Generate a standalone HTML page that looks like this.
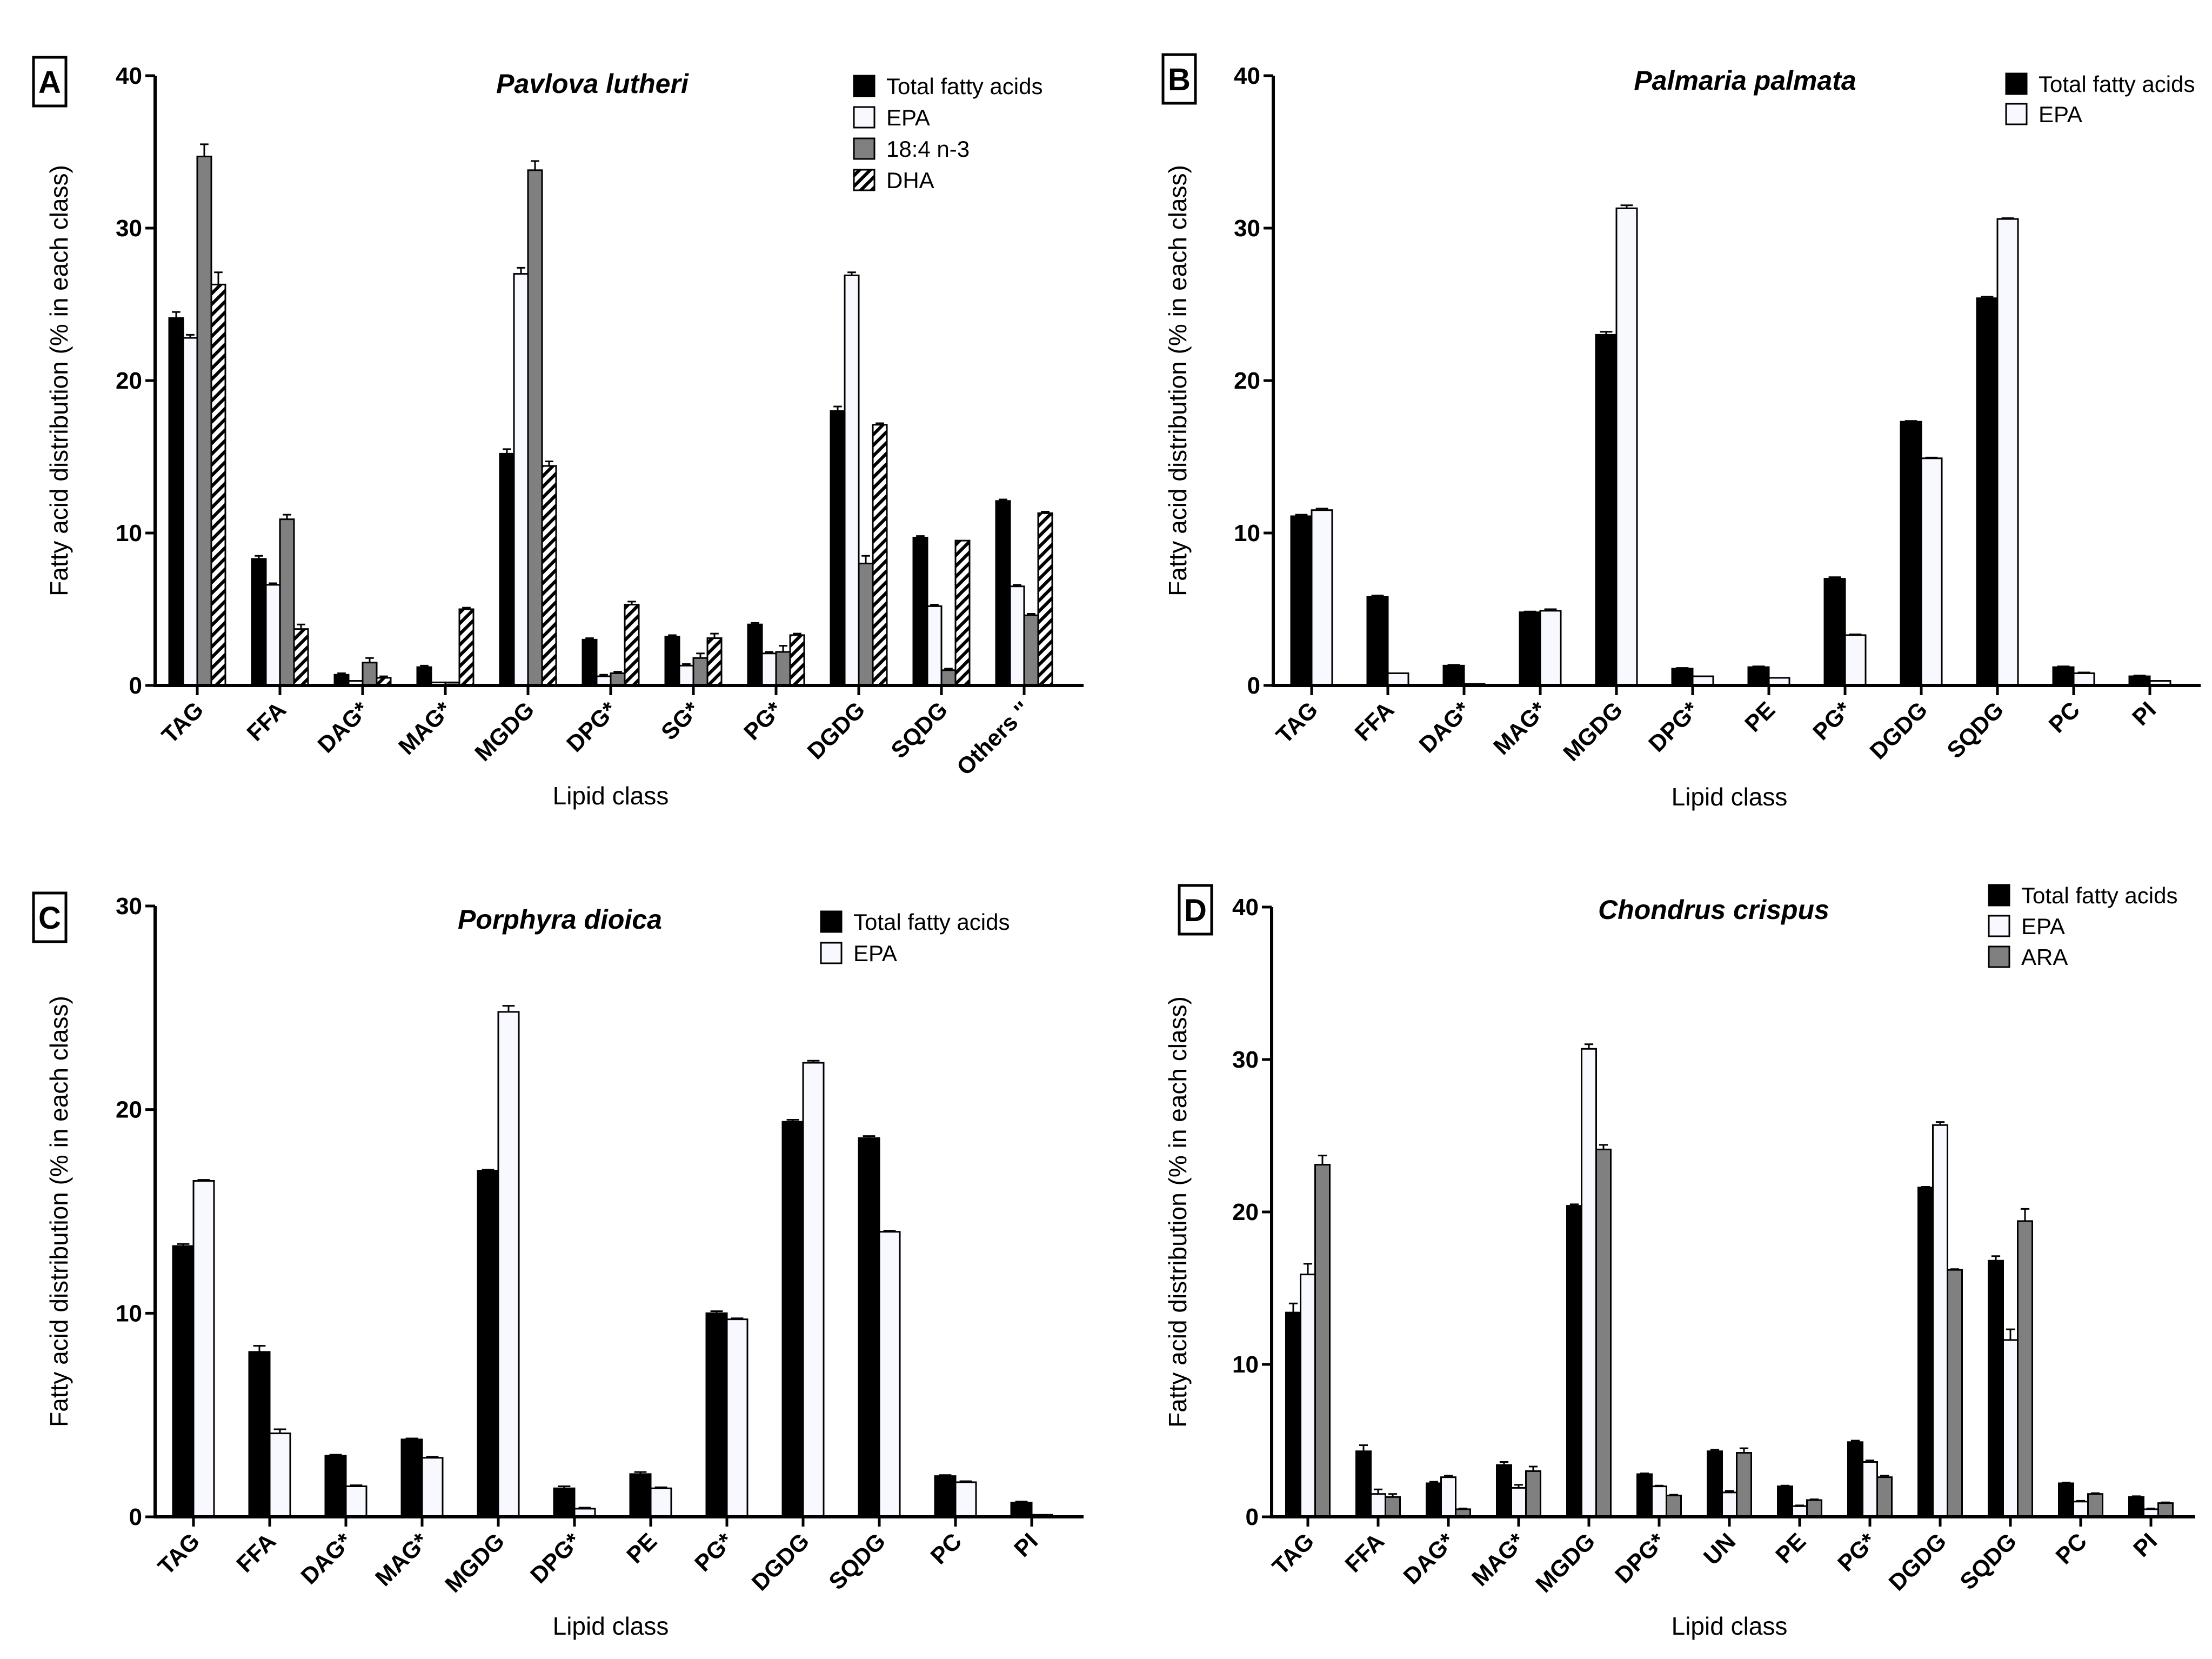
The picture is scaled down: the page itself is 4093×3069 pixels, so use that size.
<!DOCTYPE html>
<html><head><meta charset="utf-8"><style>
html,body{margin:0;padding:0;background:#fff;}
svg{display:block;font-family:"Liberation Sans",sans-serif;}
</style></head><body>
<svg id="fig" width="4093" height="3069" viewBox="0 0 4093 3069" xmlns="http://www.w3.org/2000/svg">
<defs>
<pattern id="hatch" patternUnits="userSpaceOnUse" width="14" height="14" patternTransform="rotate(45)">
<rect width="14" height="14" fill="#fff"/><rect x="0" y="0" width="6" height="14" fill="#000"/>
</pattern>
</defs>
</svg>
<script>
// ---- Panel A data ----
const catsA = ["TAG","FFA","DAG*","MAG*","MGDG","DPG*","SG*","PG*","DGDG","SQDG","Others ''"];
const totalA = [24.1,8.3,0.7,1.2,15.2,3.0,3.2,4.0,18.0,9.7,12.1];
const epaA   = [22.8,6.6,0.3,0.2,27.0,0.6,1.3,2.1,26.9,5.2,6.5];
const sdaA   = [34.7,10.9,1.5,0.2,33.8,0.8,1.8,2.2,8.0,1.0,4.6];
const dhaA   = [26.3,3.7,0.5,5.0,14.4,5.3,3.1,3.3,17.1,9.5,11.3];
const totalAErr = [0.4,0.2,0.1,0.1,0.3,0.1,0.1,0.1,0.3,0.1,0.1];
const epaAErr   = [0.2,0.1,0,0,0.4,0.1,0.1,0.1,0.2,0.1,0.1];
const sdaAErr   = [0.8,0.3,0.3,0,0.6,0.1,0.3,0.4,0.5,0.1,0.1];
const dhaAErr   = [0.8,0.3,0.1,0.1,0.3,0.2,0.3,0.1,0.1,0,0.1];
// ---- Panel B data ----
const catsB = ["TAG","FFA","DAG*","MAG*","MGDG","DPG*","PE","PG*","DGDG","SQDG","PC","PI"];
const totalB = [11.1,5.8,1.3,4.8,23.0,1.1,1.2,7.0,17.3,25.4,1.2,0.6];
const epaB   = [11.5,0.8,0.1,4.9,31.3,0.6,0.5,3.3,14.9,30.6,0.8,0.3];
const totalBErr = [0.1,0.1,0.05,0.05,0.2,0.05,0.05,0.1,0.05,0.1,0.05,0.05];
const epaBErr   = [0.1,0,0,0.1,0.2,0,0,0.05,0.05,0.05,0.05,0];
// ---- Panel C data ----
const catsC = ["TAG","FFA","DAG*","MAG*","MGDG","DPG*","PE","PG*","DGDG","SQDG","PC","PI"];
const totalC = [13.3,8.1,3.0,3.8,17.0,1.4,2.1,10.0,19.4,18.6,2.0,0.7];
const epaC   = [16.5,4.1,1.5,2.9,24.8,0.4,1.4,9.7,22.3,14.0,1.7,0.1];
const totalCErr = [0.1,0.3,0.05,0.05,0.05,0.1,0.1,0.1,0.1,0.1,0.05,0.05];
const epaCErr   = [0.05,0.2,0.05,0.05,0.3,0.05,0.05,0.05,0.1,0.05,0.05,0];
// ---- Panel D data ----
const catsD = ["TAG","FFA","DAG*","MAG*","MGDG","DPG*","UN","PE","PG*","DGDG","SQDG","PC","PI"];
const totalD = [13.4,4.3,2.2,3.4,20.4,2.8,4.3,2.0,4.9,21.6,16.8,2.2,1.3];
const epaD   = [15.9,1.5,2.6,1.9,30.7,2.0,1.6,0.7,3.6,25.7,11.6,1.0,0.5];
const araD   = [23.1,1.3,0.5,3.0,24.1,1.4,4.2,1.1,2.6,16.2,19.4,1.5,0.9];
const totalDErr = [0.6,0.4,0.1,0.2,0.1,0.05,0.1,0.05,0.1,0.05,0.3,0.05,0.05];
const epaDErr   = [0.7,0.3,0.1,0.2,0.3,0.05,0.1,0.05,0.1,0.2,0.7,0.05,0.05];
const araDErr   = [0.6,0.2,0.05,0.3,0.3,0.05,0.3,0.05,0.1,0.05,0.8,0.05,0.05];
const yTicks40 = [0,10,20,30,40];
const yTicks30 = [0,10,20,30];

const NS = "http://www.w3.org/2000/svg";
const svg = document.getElementById('fig');
function mk(tag, attrs, parent, text){
  const e = document.createElementNS(NS, tag);
  for (const k in attrs) e.setAttribute(k, attrs[k]);
  if (text !== undefined) e.textContent = text;
  (parent||svg).appendChild(e);
  return e;
}
const FILLS = {total:"#000", epa:"#f8f8ff", ara:"#808080", sda:"#808080", dha:"url(#hatch)"};

function panel(p){
  const g = mk('g', {});
  
  
  const yScale = v => p.y0 - (v / p.ymax) * (p.y0 - p.ytop);
  const xCat = i => p.x0 + p.first + i * p.step;
  const ns = p.series.length;
  p.series.forEach((s, si) => {
    s.values.forEach((v, i) => {
      const cx = xCat(i) + (si - (ns - 1) / 2) * p.bw;
      const y = yScale(v);
      const r = mk('rect', {x: cx - p.bw/2, y: y, width: p.bw, height: Math.max(p.y0 - y, 0.5), fill: FILLS[s.key], stroke: "#000", "stroke-width": 3}, g);
      
      
      const e = s.err[i];
      if (e > 0.02) {
        const ye = yScale(v + e);
        const eb = mk('path', {d: `M${cx} ${y} V${ye} M${cx - p.bw*0.3} ${ye} H${cx + p.bw*0.3}`, stroke: "#000", "stroke-width": 3, fill: "none"}, g);
        
        
      }
    });
  });
  const ax = mk('path', {d: `M${p.x0} ${p.ytop} V${p.y0} H${p.xend}`, stroke: "#000", "stroke-width": 6, fill: "none"}, g);
  
  
  p.ticks.forEach(t => {
    const y = yScale(t);
    mk('line', {x1: p.x0 - 18, x2: p.x0, y1: y, y2: y, stroke: "#000", "stroke-width": 5}, g);
    const tl = mk('text', {x: p.x0 - 24, y: y + 15, "text-anchor": "end", "font-size": 44, "font-weight": "bold"}, g, String(t));
    
    
  });
  p.cats.forEach((c, i) => {
    const x = xCat(i);
    mk('line', {x1: x, x2: x, y1: p.y0, y2: p.y0 + 18, stroke: "#000", "stroke-width": 5}, g);
    const tl = mk('text', {x: x + 14, y: p.y0 + 48, "text-anchor": "end", "font-size": 43, "font-weight": "bold", transform: `rotate(-45 ${x + 14} ${p.y0 + 48})`}, g, c);
    
    
  });
  const tt = mk('text', {x: p.titleX, y: p.titleY, "text-anchor": "middle", "font-size": 50, "font-weight": "bold", "font-style": "italic"}, g, p.title);
  
  
  const yt = mk('text', {x: 0, y: 0, "text-anchor": "middle", "font-size": 46, transform: `translate(${p.ytX} ${(p.ytop + p.y0)/2}) rotate(-90)`}, g, "Fatty acid distribution (% in each class)");
  
  
  const xt = mk('text', {x: p.xtX, y: p.xtY, "text-anchor": "middle", "font-size": 46}, g, "Lipid class");
  
  
  mk('rect', {x: p.boxX, y: p.boxY, width: 60, height: 90, fill: "none", stroke: "#000", "stroke-width": 5}, g);
  const lt = mk('text', {x: p.boxX + 30, y: p.boxY + 66, "text-anchor": "middle", "font-size": 58, "font-weight": "bold"}, g, p.id);
  
  
  p.series.forEach((s, si) => {
    const y = p.legY + si * p.legStep;
    const le = mk('g', {}, g);
    
    
    mk('rect', {x: p.legX, y: y - 19, width: 38, height: 38, fill: FILLS[s.key], stroke: "#000", "stroke-width": 3}, le);
    mk('text', {x: p.legX + 60, y: y + 15, "font-size": 42}, le, s.label);
  });
}

panel({id:"A", cats: catsA, x0: 287, xend: 2005, y0: 1268, ytop: 140, ymax: 40, ticks: yTicks40, first: 78, step: 153, bw: 26,
  series: [{key:"total", label:"Total fatty acids", values: totalA, err: totalAErr},
           {key:"epa", label:"EPA", values: epaA, err: epaAErr},
           {key:"sda", label:"18:4 n-3", values: sdaA, err: sdaAErr},
           {key:"dha", label:"DHA", values: dhaA, err: dhaAErr}],
  title:"Pavlova lutheri", titleX: 1096, titleY: 172, ytX: 125, xtX: 1130, xtY: 1488,
  boxX: 62, boxY: 106, legX: 1580, legY: 159, legStep: 58});

panel({id:"B", cats: catsB, x0: 2356, xend: 4072, y0: 1268, ytop: 140, ymax: 40, ticks: yTicks40, first: 71, step: 141, bw: 38,
  series: [{key:"total", label:"Total fatty acids", values: totalB, err: totalBErr},
           {key:"epa", label:"EPA", values: epaB, err: epaBErr}],
  title:"Palmaria palmata", titleX: 3229, titleY: 166, ytX: 2195, xtX: 3200, xtY: 1490,
  boxX: 2152, boxY: 101, legX: 3712, legY: 155, legStep: 56});

panel({id:"C", cats: catsC, x0: 287, xend: 2005, y0: 2806, ytop: 1676, ymax: 30, ticks: yTicks30, first: 71, step: 141, bw: 38,
  series: [{key:"total", label:"Total fatty acids", values: totalC, err: totalCErr},
           {key:"epa", label:"EPA", values: epaC, err: epaCErr}],
  title:"Porphyra dioica", titleX: 1036, titleY: 1718, ytX: 125, xtX: 1130, xtY: 3024,
  boxX: 62, boxY: 1652, legX: 1519, legY: 1705, legStep: 58});

panel({id:"D", cats: catsD, x0: 2353, xend: 4062, y0: 2806, ytop: 1678, ymax: 40, ticks: yTicks40, first: 67, step: 130, bw: 27,
  series: [{key:"total", label:"Total fatty acids", values: totalD, err: totalDErr},
           {key:"epa", label:"EPA", values: epaD, err: epaDErr},
           {key:"ara", label:"ARA", values: araD, err: araDErr}],
  title:"Chondrus crispus", titleX: 3171, titleY: 1700, ytX: 2195, xtX: 3200, xtY: 3024,
  boxX: 2182, boxY: 1638, legX: 3680, legY: 1656, legStep: 57});
</script>
</body></html>
